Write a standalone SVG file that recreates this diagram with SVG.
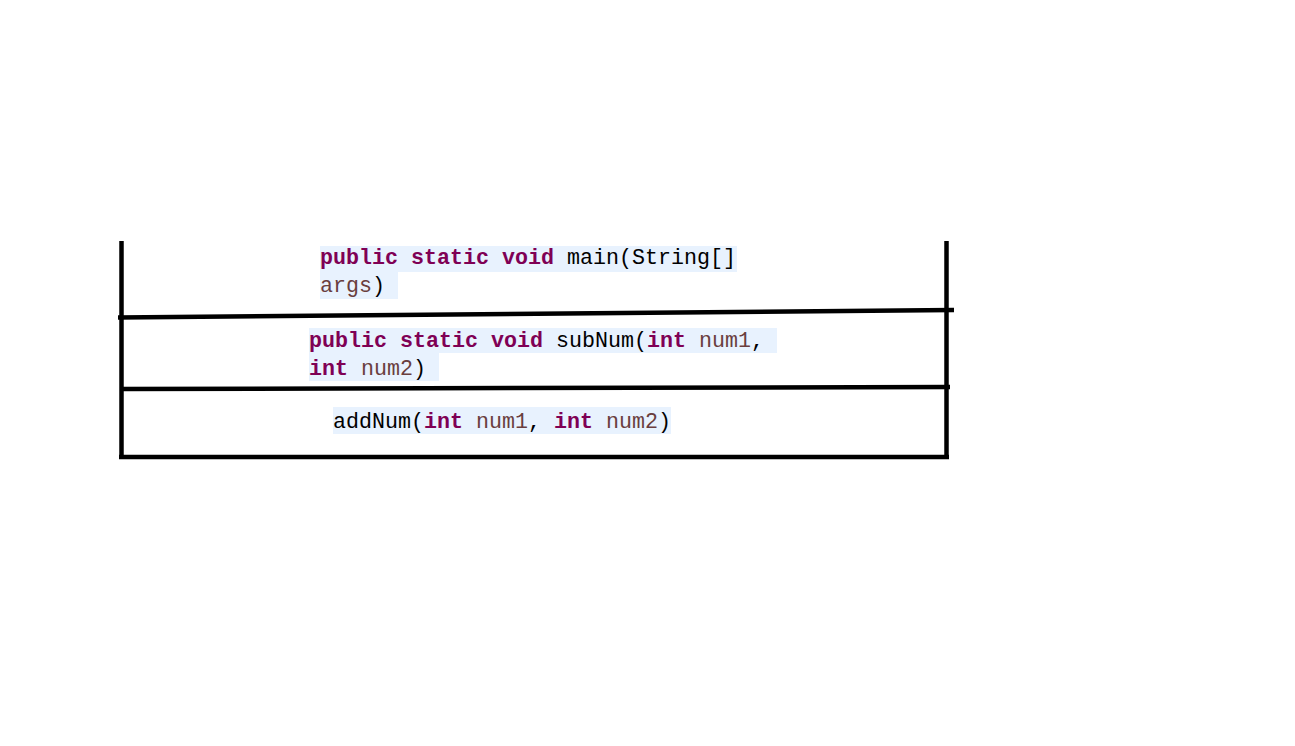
<svg xmlns="http://www.w3.org/2000/svg" width="1295" height="746" viewBox="0 0 1295 746">
  <style>
    .code { font-family: "Liberation Mono", "DejaVu Sans Mono", monospace; font-size: 21.67px; fill: #000000; }
    .kw { fill: #7F0055; font-weight: bold; }
    .par { fill: #6A3E3E; }
    .hl { fill: #E8F2FE; }
    .ln { stroke: #000000; stroke-width: 4.5; fill: none; }
  </style>
  <rect x="0" y="0" width="1295" height="746" fill="#FFFFFF"/>

  <g id="main">
    <rect class="hl" x="320" y="246" width="417" height="26"/>
    <rect class="hl" x="320" y="272" width="78" height="27"/>
    <text class="code" x="320" y="264"><tspan class="kw">public static void</tspan> main(String[]</text>
    <text class="code" x="320" y="292"><tspan class="par">args</tspan>)</text>
  </g>

  <g id="subNum">
    <rect class="hl" x="309" y="328" width="468" height="25"/>
    <rect class="hl" x="309" y="353" width="130" height="28"/>
    <text class="code" x="309" y="347"><tspan class="kw">public static void</tspan> subNum(<tspan class="kw">int</tspan> <tspan class="par">num1</tspan>,</text>
    <text class="code" x="309" y="375"><tspan class="kw">int</tspan> <tspan class="par">num2</tspan>)</text>
  </g>

  <g id="addNum">
    <rect class="hl" x="333" y="407" width="338" height="27"/>
    <text class="code" x="333" y="428">addNum(<tspan class="kw">int</tspan> <tspan class="par">num1</tspan>, <tspan class="kw">int</tspan> <tspan class="par">num2</tspan>)</text>
  </g>

  <g id="connectors">
    <line class="ln" x1="121.5" y1="241" x2="121.5" y2="459"/>
    <line class="ln" x1="946.5" y1="241" x2="946.5" y2="459"/>
    <line class="ln" x1="118" y1="317.5" x2="954" y2="310"/>
    <line class="ln" x1="120" y1="389" x2="950" y2="387"/>
    <line class="ln" x1="119" y1="457" x2="949" y2="457"/>
  </g>
</svg>
